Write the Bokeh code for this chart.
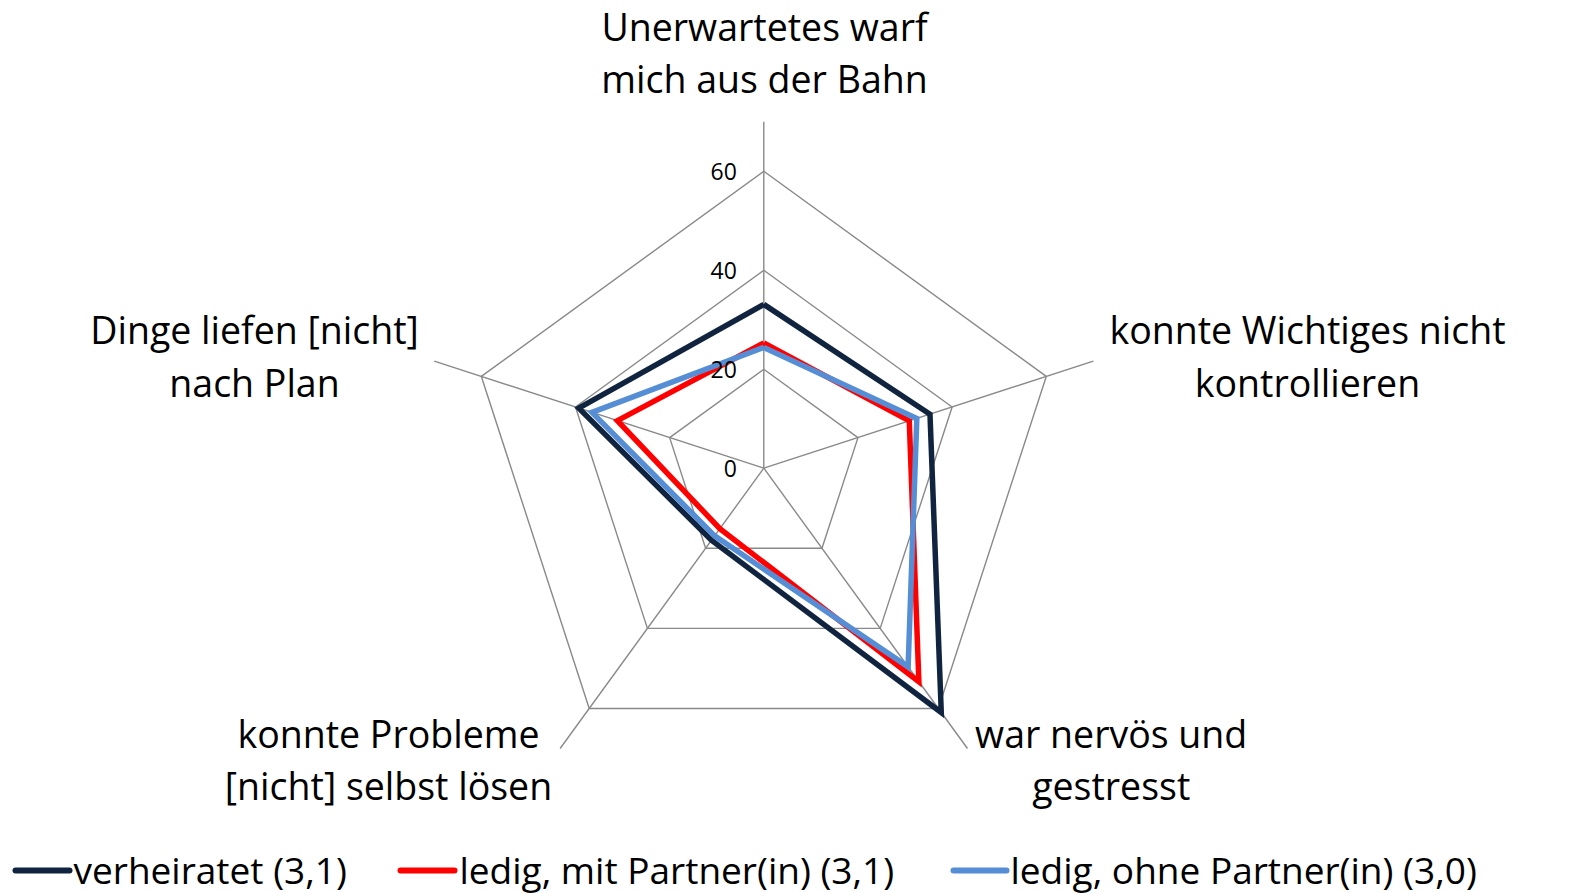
import numpy as np
from bokeh.plotting import figure
from bokeh.models import Range1d
from bokeh.core.properties import value
from bokeh.embed import file_html
from bokeh.resources import INLINE

# ---------------- data ----------------
categories = [
    ["Unerwartetes warf", "mich aus der Bahn"],
    ["konnte Wichtiges nicht", "kontrollieren"],
    ["war nervös und", "gestresst"],
    ["konnte Probleme", "[nicht] selbst lösen"],
    ["Dinge liefen [nicht]", "nach Plan"],
]
series_names = ["verheiratet (3,1)", "ledig, mit Partner(in) (3,1)", "ledig, ohne Partner(in) (3,0)"]
verheiratet = [33.1, 35.3, 61.0, 18.0, 39.3]
ledig_mit = [25.3, 30.9, 53.3, 15.1, 31.1]
ledig_ohne = [24.4, 32.5, 49.6, 16.9, 36.5]
tick_values = [0, 20, 40, 60]
tick_labels = ["0", "20", "40", "60"]
axis_max = 70

# ---------------- layout / style ----------------
W, H = 1589, 893
CX, CY = 763.3, 467.7          # chart centre in figure pixels (from top-left)
PX = 4.95                      # pixels per data unit
FONT = "Open Sans"
colors = ["#10243f", "#ff0000", "#558ed5"]
GRID = "#898989"

def sx(X):   # screen x -> data units
    return (X - CX) / PX

def sy(Y):   # screen y -> data units
    return (CY - Y) / PX

p = figure(width=W, height=H, output_backend="svg", toolbar_location=None,
           x_range=Range1d(-CX / PX, (W - CX) / PX),
           y_range=Range1d(-(H - CY) / PX, CY / PX),
           x_axis_location=None, y_axis_location=None, title=None,
           min_border=0)
p.grid.visible = False
p.outline_line_color = None
p.background_fill_color = "white"
p.border_fill_color = "white"

n = len(categories)
angles = np.pi / 2 - 2 * np.pi * np.arange(n) / n

# spokes
xs_sp = [[0, axis_max * np.cos(a)] for a in angles]
ys_sp = [[0, axis_max * np.sin(a)] for a in angles]
p.multi_line(xs_sp, ys_sp, line_color=GRID, line_width=1.4)

# rings
for t in tick_values[1:]:
    rx = list(t * np.cos(angles)) + [t * np.cos(angles[0])]
    ry = list(t * np.sin(angles)) + [t * np.sin(angles[0])]
    p.line(rx, ry, line_color=GRID, line_width=1.4)

# series
for vals, c in zip([verheiratet, ledig_mit, ledig_ohne], colors):
    v = np.array(vals)
    x = list(v * np.cos(angles)) + [v[0] * np.cos(angles[0])]
    y = list(v * np.sin(angles)) + [v[0] * np.sin(angles[0])]
    p.line(x, y, line_color=c, line_width=5.5, line_join="miter")

# tick labels (drawn above the series, as in the original)
p.text(x=[0] * len(tick_values), y=tick_values, text=tick_labels,
       x_offset=-27, text_align="right", text_baseline="middle",
       text_font=value(FONT), text_font_size="23px", text_color="#000000")

# category labels (centre x, first-line middle y in screen px)
label_pos = [(764, 25.5), (1307, 329), (1110.7, 732.5), (388, 732.5), (254, 329)]
LINE_GAP = 52.5
lx, ly, lt = [], [], []
for lines, (X, Y) in zip(categories, label_pos):
    for k, line in enumerate(lines):
        lx.append(sx(X))
        ly.append(sy(Y + k * LINE_GAP))
        lt.append(line)
p.text(x=lx, y=ly, text=lt, text_align="center", text_baseline="middle",
       text_font=value(FONT), text_font_size="37.5px", text_color="#000000")

# legend
leg_line_x = [(15, 69), (400, 454), (953, 1006)]
leg_text_x = [73, 459, 1010]
LEG_Y = 868.5
for name, c, (a, b), tx in zip(series_names, colors, leg_line_x, leg_text_x):
    p.line([sx(a), sx(b)], [sy(LEG_Y + 1.5), sy(LEG_Y + 1.5)], line_color=c, line_width=6, line_cap="round")
    p.text(x=[sx(tx)], y=[sy(LEG_Y)], text=[name], text_align="left", text_baseline="middle",
           text_font=value(FONT), text_font_size="37px", text_color="#000000")

open("out.html", "w").write(file_html(p, INLINE))
